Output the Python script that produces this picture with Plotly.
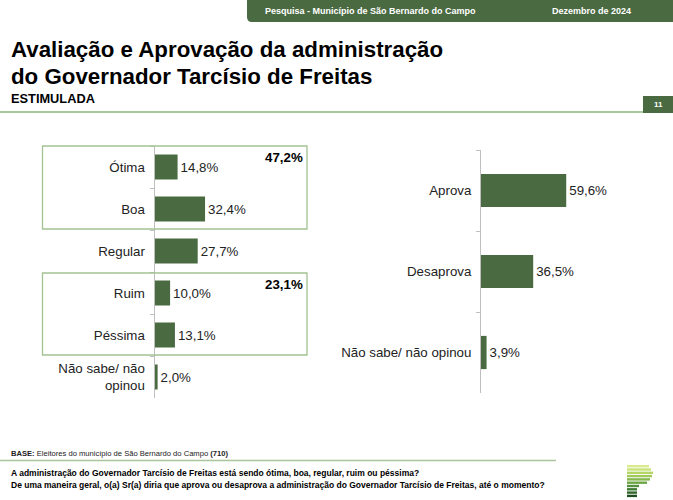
import plotly.graph_objects as go

W, H = 673, 500

# ---- data ----
aval_labels = ["Ótima", "Boa", "Regular", "Ruim", "Péssima", "Não sabe/ não<br>opinou"]
aval_values = [14.8, 32.4, 27.7, 10.0, 13.1, 2.0]
aval_text = ["14,8%", "32,4%", "27,7%", "10,0%", "13,1%", "2,0%"]

aprov_labels = ["Aprova", "Desaprova", "Não sabe/ não opinou"]
aprov_values = [59.6, 36.5, 3.9]
aprov_text = ["59,6%", "36,5%", "3,9%"]

group_totals = ["47,2%", "23,1%"]

GREEN = "#4a6a41"
FONT = "Liberation Sans, Arial, sans-serif"
LBL = 13.3


def px(x):
    return x / W


def py(y):
    return 1 - y / H


fig = go.Figure()

fig.add_trace(go.Bar(
    y=aval_labels, x=aval_values, orientation="h", width=0.6,
    marker=dict(color=GREEN, line=dict(width=0)),
    text=aval_text, textposition="outside", cliponaxis=False,
    textfont=dict(size=LBL, color="#222"),
    xaxis="x", yaxis="y", hoverinfo="skip"))

fig.add_trace(go.Bar(
    y=aprov_labels, x=aprov_values, orientation="h", width=0.41,
    marker=dict(color=GREEN, line=dict(width=0)),
    text=aprov_text, textposition="outside", cliponaxis=False,
    textfont=dict(size=LBL, color="#222"),
    xaxis="x2", yaxis="y2", hoverinfo="skip"))

axis_common = dict(showgrid=False, zeroline=False, showticklabels=False, fixedrange=True)
ycommon = dict(type="category", autorange="reversed", showline=True, linecolor="#bfbfbf",
               linewidth=1, ticks="outside", ticklen=4, tickcolor="#bfbfbf",
               tickson="boundaries", showgrid=False, zeroline=False, fixedrange=True,
               tickfont=dict(size=LBL, color="#222", family=FONT), ticklabelstandoff=6)

fig.update_layout(
    width=W, height=H,
    margin=dict(l=0, r=0, t=0, b=0),
    paper_bgcolor="white", plot_bgcolor="white",
    showlegend=False,
    font=dict(family=FONT, color="#222"),
    xaxis=dict(domain=[px(154.5), px(315)], range=[0, (315 - 154.5) / 1.56], **axis_common),
    yaxis=dict(domain=[py(398), py(146)], **ycommon),
    xaxis2=dict(domain=[px(481), px(640)], range=[0, (640 - 481) / 1.43], anchor="y2", **axis_common),
    yaxis2=dict(domain=[py(393), py(150)], anchor="x2", **ycommon),
)

shapes = []
annotations = []

# header banner with rounded bottom-left corner
r = 5
shapes.append(dict(type="path", xref="paper", yref="paper",
                   path=f"M {px(247)},{py(0)} L {px(673)},{py(0)} L {px(673)},{py(22)} "
                        f"L {px(247 + r)},{py(22)} Q {px(247)},{py(22)} {px(247)},{py(22 - r)} Z",
                   fillcolor=GREEN, line=dict(width=0)))
annotations.append(dict(x=px(263), y=py(11), xref="paper", yref="paper", xanchor="left", yanchor="middle",
                        text="<b>Pesquisa - Município de São Bernardo do Campo</b>", showarrow=False,
                        font=dict(size=9, color="white", family=FONT)))
annotations.append(dict(x=px(550), y=py(11), xref="paper", yref="paper", xanchor="left", yanchor="middle",
                        text="<b>Dezembro de 2024</b>", showarrow=False,
                        font=dict(size=9, color="white", family=FONT)))

# titles
annotations.append(dict(x=px(9), y=py(50), xref="paper", yref="paper", xanchor="left", yanchor="middle",
                        text="<b>Avaliação e Aprovação da administração</b>", showarrow=False,
                        font=dict(size=22.3, color="black", family=FONT)))
annotations.append(dict(x=px(9), y=py(76), xref="paper", yref="paper", xanchor="left", yanchor="middle",
                        text="<b>do Governador Tarcísio de Freitas</b>", showarrow=False,
                        font=dict(size=22.3, color="black", family=FONT)))
annotations.append(dict(x=px(9), y=py(99), xref="paper", yref="paper", xanchor="left", yanchor="middle",
                        text="<b>ESTIMULADA</b>", showarrow=False,
                        font=dict(size=12.8, color="black", family=FONT)))

# title underline and page number
shapes.append(dict(type="line", xref="paper", yref="paper", x0=0, x1=px(643), y0=py(112), y1=py(112),
                   line=dict(color="#a9c79a", width=2)))
shapes.append(dict(type="rect", xref="paper", yref="paper", x0=px(643), x1=px(673), y0=py(113), y1=py(96),
                   fillcolor=GREEN, line=dict(width=0)))
annotations.append(dict(x=px(658), y=py(104.5), xref="paper", yref="paper", xanchor="center", yanchor="middle",
                        text="<b>11</b>", showarrow=False, font=dict(size=8, color="white", family=FONT)))

# group boxes
for (y0, y1), tot in zip([(146, 229), (273, 355)], group_totals):
    shapes.append(dict(type="rect", xref="paper", yref="paper", x0=px(42.5), x1=px(307),
                       y0=py(y1), y1=py(y0), line=dict(color="#a3c293", width=1.3), fillcolor="rgba(0,0,0,0)"))
    annotations.append(dict(x=px(305), y=py(y0 + 11), xref="paper", yref="paper", xanchor="right",
                            yanchor="middle", text=f"<b>{tot}</b>", showarrow=False,
                            font=dict(size=LBL, color="black", family=FONT)))

# footer
annotations.append(dict(x=px(9), y=py(453), xref="paper", yref="paper", xanchor="left", yanchor="middle",
                        text="<b>BASE:</b> Eleitores do município de São Bernardo do Campo <b>(710)</b>",
                        showarrow=False, font=dict(size=7.6, color="#222", family=FONT)))
shapes.append(dict(type="line", xref="paper", yref="paper", x0=0, x1=px(556), y0=py(460.5), y1=py(460.5),
                   line=dict(color="#a9c79a", width=1.5)))
annotations.append(dict(x=px(9), y=py(473), xref="paper", yref="paper", xanchor="left", yanchor="middle",
                        text="<b>A administração do Governador Tarcísio de Freitas está sendo ótima, boa, regular, ruim ou péssima?</b>",
                        showarrow=False, font=dict(size=8.5, color="black", family=FONT)))
annotations.append(dict(x=px(9), y=py(485), xref="paper", yref="paper", xanchor="left", yanchor="middle",
                        text="<b>De uma maneira geral, o(a) Sr(a) diria que aprova ou desaprova a administração do Governador Tarcísio de Freitas, até o momento?</b>",
                        showarrow=False, font=dict(size=8.5, color="black", family=FONT)))

# logo (decorative stacked stripes)
logo = [(465, 649, "#d9ea8f"), (468.3, 651, "#c9e27a"), (471.6, 653, "#b5d667"), (474.9, 652, "#9fc95a"),
        (478.2, 650, "#86b84e"), (481.5, 647, "#6ea545"), (484.8, 639, "#55903c"), (488.1, 637, "#3f7a33"),
        (491.4, 637, "#2f642a"), (494.7, 637, "#1f4d20")]
for y, xr, c in logo:
    shapes.append(dict(type="rect", xref="paper", yref="paper", x0=px(627), x1=px(xr), y0=py(y + 2.4), y1=py(y),
                       fillcolor=c, line=dict(width=0)))

fig.update_layout(shapes=shapes, annotations=annotations)
fig.write_html("out.html", config={"displayModeBar": False},
               post_script="document.body.style.margin='0';document.body.style.overflow='hidden';")
